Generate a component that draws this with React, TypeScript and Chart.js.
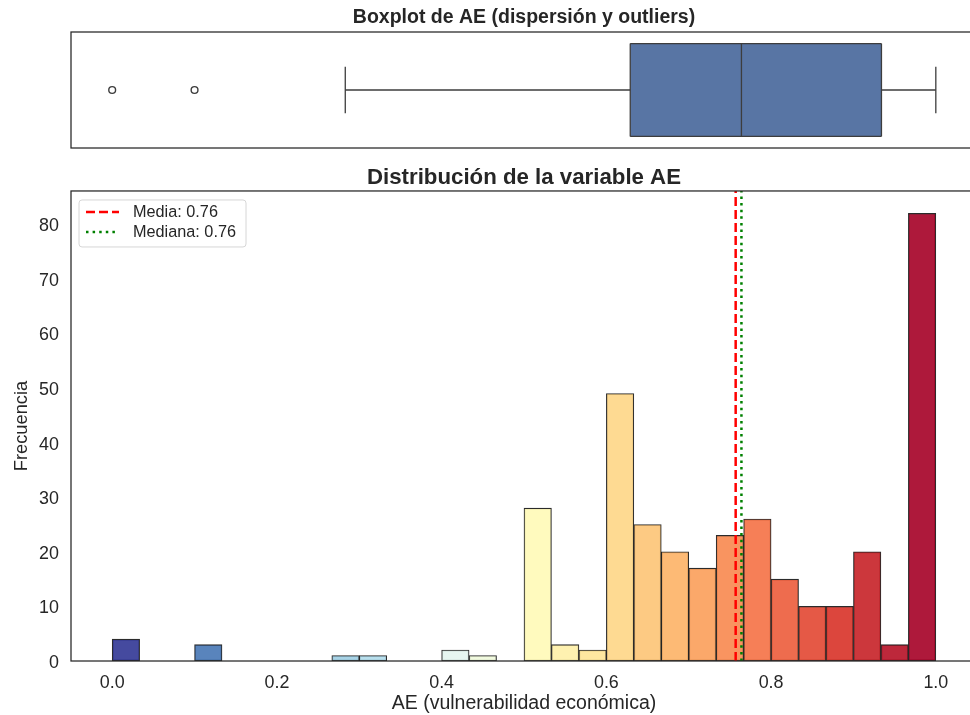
import React, { useEffect, useRef } from 'react';
import { Chart, registerables } from 'chart.js';

Chart.register(...registerables);

const FONT = "'Liberation Sans', Arial, Helvetica, sans-serif";
const INK = '#262626';

// ---------- Histogram data ----------
const binRange = [0, 1];
const binCounts = [4, 0, 0, 3, 0, 0, 0, 0, 1, 1, 0, 0, 2, 1, 0, 28, 3, 2, 49, 25, 20, 17, 23, 26, 15, 10, 10, 20, 3, 82];
const xTickValues = [0, 0.2, 0.4, 0.6, 0.8, 1.0];
const yTickValues = [0, 10, 20, 30, 40, 50, 60, 70, 80];
const meanAE = 0.757;
const medianAE = 0.764;

// ---------- Boxplot data ----------
const boxFiveNumbers = [0.283, 0.629, 0.764, 0.934, 1.0]; // whisker low, Q1, median, Q3, whisker high
const boxOutliers = [0.0, 0.1];

// ---------- Styles ----------
const RDYLBU_R = ['#313695', '#4575b4', '#74add1', '#abd9e9', '#e0f3f8', '#ffffbf', '#fee090', '#fdae61', '#f46d43', '#d73027', '#a50026'];
const BOX_FILL = '#5875a4';
const BOX_EDGE = '#3d3d3d';

function hexToRgb(h: string) {
  const n = parseInt(h.slice(1), 16);
  return [(n >> 16) & 255, (n >> 8) & 255, n & 255];
}
function cmap(t: number, alpha: number) {
  const pos = Math.min(Math.max(t, 0), 1) * (RDYLBU_R.length - 1);
  const i = Math.min(Math.floor(pos), RDYLBU_R.length - 2);
  const f = pos - i;
  const a = hexToRgb(RDYLBU_R[i]);
  const b = hexToRgb(RDYLBU_R[i + 1]);
  const c = a.map((v, k) => Math.round(v + (b[k] - v) * f));
  return `rgba(${c[0]},${c[1]},${c[2]},${alpha})`;
}

const X_MIN = -0.05;
const X_MAX = 1.05;

const framePlugin = {
  id: 'axesFrame',
  afterDatasetsDraw(chart: any) {
    const { ctx, chartArea: a } = chart;
    ctx.save();
    ctx.strokeStyle = INK;
    ctx.lineWidth = 1.25;
    ctx.strokeRect(a.left, a.top, a.right - a.left, a.bottom - a.top);
    ctx.restore();
  },
};

const legendPlugin = {
  id: 'boxedLegend',
  afterDraw(chart: any) {
    const { ctx, chartArea: a } = chart;
    const items = chart.data.datasets.filter((d: any) => d.inLegend);
    const lx = a.left + 8;
    const ly = a.top + 9;
    const lw = 167;
    const lh = 47;
    ctx.save();
    ctx.beginPath();
    if ((ctx as any).roundRect) (ctx as any).roundRect(lx, ly, lw, lh, 3);
    else ctx.rect(lx, ly, lw, lh);
    ctx.fillStyle = 'rgba(255,255,255,0.85)';
    ctx.fill();
    ctx.strokeStyle = '#d6d6d6';
    ctx.lineWidth = 1;
    ctx.stroke();
    items.forEach((d: any, i: number) => {
      const y = ly + 12 + i * 20;
      ctx.beginPath();
      ctx.setLineDash(d.borderDash || []);
      ctx.strokeStyle = d.borderColor;
      ctx.lineWidth = d.borderWidth;
      ctx.moveTo(lx + 7, y);
      ctx.lineTo(lx + 40, y);
      ctx.stroke();
      ctx.setLineDash([]);
      ctx.fillStyle = INK;
      ctx.font = `16.25px ${FONT}`;
      ctx.textBaseline = 'middle';
      ctx.textAlign = 'left';
      ctx.fillText(d.label, lx + 54, y + 0.5);
    });
    ctx.restore();
  },
};

export default function App() {
  const topRef = useRef<HTMLCanvasElement | null>(null);
  const histRef = useRef<HTMLCanvasElement | null>(null);

  useEffect(() => {
    document.body.style.margin = '0';
    Chart.defaults.font.family = FONT;
    Chart.defaults.color = INK;

    const [wLo, q1, med, q3, wHi] = boxFiveNumbers;
    const seg = (pts: number[][], extra: any = {}) => ({
      type: 'line',
      data: pts.map(([x, y]) => ({ x, y })),
      borderColor: BOX_EDGE,
      borderWidth: 1.3,
      pointRadius: 0,
      fill: false,
      ...extra,
    });

    const topChart = new Chart(topRef.current as HTMLCanvasElement, {
      type: 'line',
      data: {
        datasets: [
          {
            type: 'line',
            data: boxOutliers.map((x) => ({ x, y: 0 })),
            showLine: false,
            pointRadius: 3.4,
            pointBackgroundColor: '#ffffff',
            pointBorderColor: BOX_EDGE,
            pointBorderWidth: 1.4,
          },
          seg([[med, -0.4], [med, 0.4]]),
          seg([[q1, -0.4], [q3, -0.4]]),
          seg([[q1, 0.4], [q3, 0.4]]),
          seg([[q1, -0.4], [q1, 0.4]]),
          seg([[q3, -0.4], [q3, 0.4]]),
          seg([[wLo, 0], [q1, 0]]),
          seg([[q3, 0], [wHi, 0]]),
          seg([[wLo, -0.2], [wLo, 0.2]]),
          seg([[wHi, -0.2], [wHi, 0.2]]),
          seg([[q1, 0.4], [q3, 0.4]], { borderWidth: 0, fill: { value: -0.4 }, backgroundColor: BOX_FILL }),
        ] as any,
      },
      options: {
        animation: false,
        responsive: false,
        events: [],
        layout: { autoPadding: false, padding: { left: 71, right: 3, top: 0, bottom: 2 } },
        scales: {
          x: { type: 'linear', min: X_MIN, max: X_MAX, display: false },
          y: { type: 'linear', min: -0.5, max: 0.5, display: false },
        },
        plugins: {
          legend: { display: false },
          tooltip: { enabled: false },
          title: {
            display: true,
            text: 'Boxplot de AE (dispersión y outliers)',
            fullSize: false,
            color: INK,
            font: { size: 19.5, weight: 'bold', family: FONT, lineHeight: 1.2 },
            padding: { top: 6.3, bottom: 2.3 },
          },
        },
      } as any,
      plugins: [framePlugin],
    });

    const binWidth = (binRange[1] - binRange[0]) / binCounts.length;
    const binCenters = binCounts.map((_, i) => binRange[0] + (i + 0.5) * binWidth);
    const barColors = binCounts.map((_, i) => cmap(i / (binCounts.length - 1), 0.9));
    const yMax = Math.max(...binCounts) * 1.05;

    const histChart = new Chart(histRef.current as HTMLCanvasElement, {
      type: 'bar',
      data: {
        datasets: [
          {
            type: 'bar',
            data: binCenters.map((x, i) => ({ x, y: binCounts[i] })),
            backgroundColor: barColors,
            borderColor: 'rgba(20,20,20,0.9)',
            borderWidth: 1.1,
            borderSkipped: false,
            barPercentage: 1,
            categoryPercentage: 1,
            order: 2,
          },
          {
            type: 'line',
            label: `Media: ${meanAE.toFixed(2)}`,
            inLegend: true,
            data: [{ x: meanAE, y: 0 }, { x: meanAE, y: yMax }],
            borderColor: '#ff0000',
            borderWidth: 2.5,
            borderDash: [9, 4],
            pointRadius: 0,
            fill: false,
            order: 1,
          },
          {
            type: 'line',
            label: `Mediana: ${medianAE.toFixed(2)}`,
            inLegend: true,
            data: [{ x: medianAE, y: 0 }, { x: medianAE, y: yMax }],
            borderColor: '#008000',
            borderWidth: 2.5,
            borderDash: [2.5, 4.1],
            pointRadius: 0,
            fill: false,
            order: 0,
          },
        ] as any,
      },
      options: {
        animation: false,
        responsive: false,
        events: [],
        layout: { autoPadding: false, padding: { left: 0, right: 3, top: 0, bottom: 0 } },
        scales: {
          x: {
            type: 'linear',
            min: X_MIN,
            max: X_MAX,
            offset: false,
            grid: { display: false, drawTicks: false },
            border: { display: false },
            ticks: {
              color: INK,
              font: { size: 17.9, family: FONT, lineHeight: 1.2 },
              padding: 11.2,
              maxRotation: 0,
              callback: (v: any) => Number(v).toFixed(1),
            },
            afterBuildTicks: (s: any) => {
              s.ticks = xTickValues.map((value) => ({ value }));
            },
            afterFit: (s: any) => {
              s.height = 54;
            },
            title: {
              display: true,
              text: 'AE (vulnerabilidad económica)',
              color: INK,
              font: { size: 19.5, family: FONT, lineHeight: 1.1 },
              padding: { top: 0, bottom: 0.8 },
            },
          },
          y: {
            type: 'linear',
            min: 0,
            max: yMax,
            grid: { display: false, drawTicks: false },
            border: { display: false },
            ticks: {
              color: INK,
              font: { size: 17.9, family: FONT },
              padding: 12,
              labelOffset: 2,
              callback: (v: any) => String(v),
            },
            afterBuildTicks: (s: any) => {
              s.ticks = yTickValues.map((value) => ({ value }));
            },
            afterFit: (s: any) => {
              s.width = 71;
            },
            title: {
              display: true,
              text: 'Frecuencia',
              color: INK,
              font: { size: 18.3, family: FONT, lineHeight: 1.2 },
              padding: { top: 11, bottom: 0 },
            },
          },
        },
        plugins: {
          legend: { display: false },
          tooltip: { enabled: false },
          title: {
            display: true,
            text: 'Distribución de la variable AE',
            fullSize: false,
            color: INK,
            font: { size: 22.25, weight: 'bold', family: FONT, lineHeight: 1.1 },
            padding: { top: 15.8, bottom: 0.7 },
          },
        },
      } as any,
      plugins: [framePlugin, legendPlugin],
    });

    return () => {
      topChart.destroy();
      histChart.destroy();
    };
  }, []);

  return (
    <div style={{ position: 'relative', width: 970, height: 715, overflow: 'hidden', background: '#ffffff' }}>
      <canvas
        ref={topRef}
        width={980}
        height={150}
        style={{ position: 'absolute', left: 0, top: 0, width: 980, height: 150 }}
      />
      <canvas
        ref={histRef}
        width={980}
        height={565}
        style={{ position: 'absolute', left: 0, top: 150, width: 980, height: 565 }}
      />
    </div>
  );
}
